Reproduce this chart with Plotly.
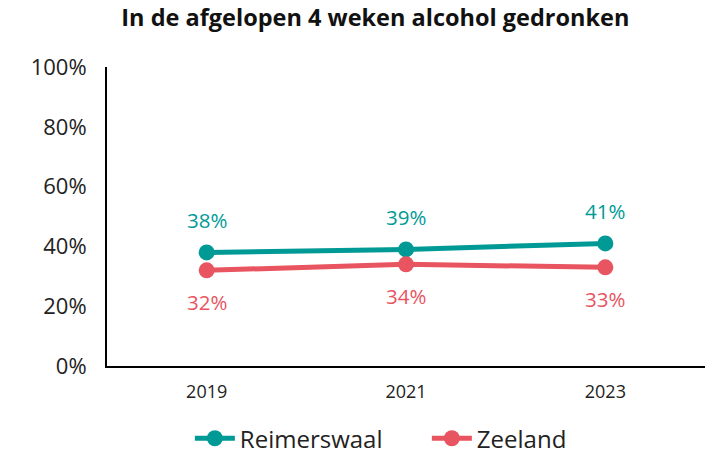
import plotly.graph_objects as go

# Share of respondents who drank alcohol in the past 4 weeks
years = ["2019", "2021", "2023"]
reimerswaal = [38, 39, 41]
zeeland = [32, 34, 33]
y_ticks = [0, 20, 40, 60, 80, 100]
y_tick_labels = ["0%", "20%", "40%", "60%", "80%", "100%"]

TEAL = "#009A96"
RED = "#E8545F"
FONT = "Open Sans"
TEXT = "#222222"

fig = go.Figure()
fig.add_trace(go.Scatter(
    x=years, y=reimerswaal, name="Reimerswaal", mode="lines+markers",
    line=dict(color=TEAL, width=5), marker=dict(color=TEAL, size=16),
))
fig.add_trace(go.Scatter(
    x=years, y=zeeland, name="Zeeland", mode="lines+markers",
    line=dict(color=RED, width=5), marker=dict(color=RED, size=16),
))

# Value labels: above the Reimerswaal line, below the Zeeland line
for i, v in enumerate(reimerswaal):
    fig.add_annotation(x=i, y=v, xref="x", yref="y", text=f"{v}%",
                       showarrow=False, yshift=32,
                       font=dict(color=TEAL, size=20.5, family=FONT))
for i, v in enumerate(zeeland):
    fig.add_annotation(x=i, y=v, xref="x", yref="y", text=f"{v}%",
                       showarrow=False, yshift=-32,
                       font=dict(color=RED, size=20.5, family=FONT))

fig.update_layout(
    width=715, height=455,
    margin=dict(l=107, r=10, t=67, b=89, autoexpand=False),
    paper_bgcolor="white", plot_bgcolor="white",
    font=dict(family=FONT, color=TEXT),
    title=dict(text="<b>In de afgelopen 4 weken alcohol gedronken</b>",
               x=0.525, xanchor="center", y=0.96, yanchor="middle",
               font=dict(size=23.5, family=FONT, color="#111111")),
    showlegend=True,
    legend=dict(orientation="h", xref="container", yref="container",
                x=0.597, xanchor="center", y=0.036, yanchor="middle",
                font=dict(size=24, family=FONT, color=TEXT), itemwidth=40,
                entrywidth=182, traceorder="normal"),
)
fig.update_xaxes(
    type="category", range=[-0.5, 2.5], showline=True, linecolor="black", linewidth=2,
    showgrid=False, ticks="", ticklabelstandoff=8,
    tickfont=dict(size=18, family=FONT, color=TEXT),
    zeroline=False,
)
fig.update_yaxes(
    range=[0, 100], tickvals=y_ticks, ticktext=y_tick_labels,
    showline=True, linecolor="black", linewidth=2, showgrid=False, ticks="",
    ticklabelstandoff=14,
    tickfont=dict(size=22, family=FONT, color=TEXT), zeroline=False,
)

fig.write_html("out.html")
